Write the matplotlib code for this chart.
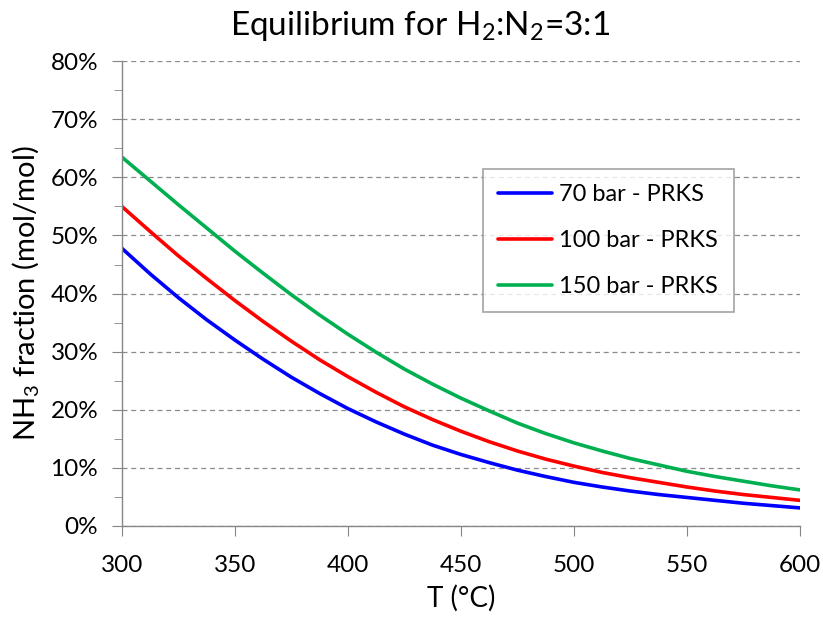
import numpy as np
import matplotlib.pyplot as plt
from matplotlib.ticker import MultipleLocator, PercentFormatter

plt.rcParams['font.family'] = ['Lato', 'DejaVu Sans']
plt.rcParams['mathtext.fontset'] = 'custom'
plt.rcParams['mathtext.rm'] = 'Lato'

# Значения
T = [300, 312.5, 325, 337.5, 350, 362.5, 375, 387.5, 400, 412.5, 425, 437.5, 450,
     462.5, 475, 487.5, 500, 512.5, 525, 537.5, 550, 562.5, 575, 587.5, 600]
nh3_70 = [47.8, 43.4, 39.3, 35.5, 32.0, 28.7, 25.6, 22.8, 20.2, 17.9, 15.8, 13.9, 12.3,
          10.9, 9.6, 8.5, 7.5, 6.7, 6.0, 5.4, 4.9, 4.4, 3.9, 3.5, 3.1]
nh3_100 = [55.0, 50.7, 46.5, 42.6, 38.8, 35.2, 31.8, 28.6, 25.7, 23.0, 20.5, 18.3, 16.3,
           14.5, 12.9, 11.5, 10.3, 9.2, 8.3, 7.5, 6.7, 6.0, 5.4, 4.9, 4.4]
nh3_150 = [63.5, 59.4, 55.3, 51.3, 47.3, 43.5, 39.8, 36.3, 33.0, 29.9, 27.0, 24.4, 22.0,
           19.8, 17.7, 15.9, 14.3, 12.9, 11.6, 10.5, 9.4, 8.5, 7.7, 6.9, 6.2]
labels = ['70 bar - PRKS', '100 bar - PRKS', '150 bar - PRKS']
colors = ['#0000ff', '#ff0000', '#00b050']

f = plt.figure(figsize=(8.23, 6.18), dpi=100)
ax = f.add_axes([0.148, 0.149, 0.824, 0.752])

for y, lab, c in zip([nh3_70, nh3_100, nh3_150], labels, colors):
    ax.plot(T, y, color=c, lw=2.6, label=lab, solid_capstyle='round')

ax.set_xlim(300, 600)
ax.set_ylim(0, 80)
ax.xaxis.set_major_locator(MultipleLocator(50))
ax.yaxis.set_major_locator(MultipleLocator(10))
ax.yaxis.set_minor_locator(MultipleLocator(5))
ax.yaxis.set_major_formatter(PercentFormatter(decimals=0))

ax.grid(axis='y', which='major', linestyle=(0, (4, 3)), color='#8c8c8c', lw=0.9)
ax.set_axisbelow(True)

for s in ['top', 'right']:
    ax.spines[s].set_visible(False)
for s in ['left', 'bottom']:
    ax.spines[s].set_color('#868686')
    ax.spines[s].set_linewidth(1.0)

ax.tick_params(axis='both', which='major', direction='out', length=7, color='#868686',
               labelsize=17.5)
ax.tick_params(axis='y', which='minor', direction='out', length=6, color='#868686')
ax.tick_params(axis='y', pad=10)
ax.tick_params(axis='x', pad=14)

#  Подписи осей и название
ax.set_xlabel('T (°C)', fontsize=20, labelpad=6)
ax.set_ylabel('NH$_3$ fraction (mol/mol)', fontsize=21, labelpad=6)
f.suptitle('Equilibrium for H$_2$:N$_2$=3:1', fontsize=24, x=0.51, y=0.985, va='top')

leg = ax.legend(loc='upper left', bbox_to_anchor=(0.532, 0.768), fontsize=17,
                frameon=True, fancybox=False, handlelength=2.3, labelspacing=1.05,
                borderpad=0.65, handletextpad=0.3, borderaxespad=0)
leg.get_frame().set_edgecolor('#8c8c8c')
leg.get_frame().set_linewidth(1.2)

f.savefig('out.png', dpi=100)
